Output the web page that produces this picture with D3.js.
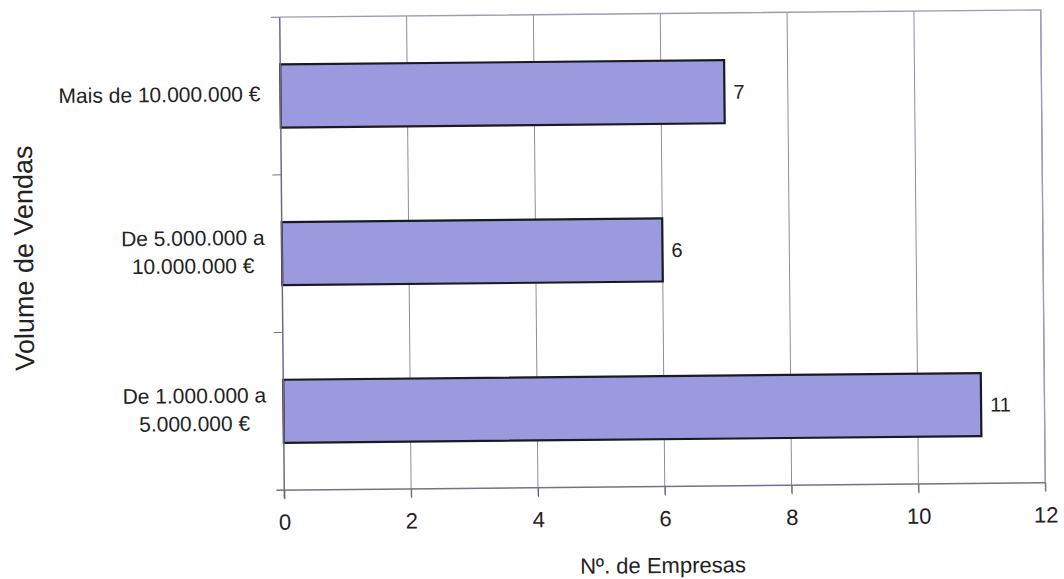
<!DOCTYPE html>
<html><head><meta charset="utf-8">
<script src="https://cdn.jsdelivr.net/npm/d3@7"></script>
<style>body{margin:0;background:#fff}svg{font-family:"Liberation Sans",Arial,sans-serif}</style>
</head><body>
<svg id="c" width="1064" height="579"></svg>
<script>
const categories = [["Mais de 10.000.000 €"], ["De 5.000.000 a", "10.000.000 €"], ["De 1.000.000 a", "5.000.000 €"]];
const values = [7, 6, 11];
const xTicks = [0, 2, 4, 6, 8, 10, 12];

const L = 282, R = 1043, T = 13.5, B = 486.5;
// whole scanned page is tilted slightly
const svg = d3.select("#c").append("g").attr("transform", `rotate(-0.55,${(L + R) / 2},${(T + B) / 2})`);
const x = d3.scaleLinear().domain([0, 12]).range([L, R]);
const y = d3.scaleBand().domain(d3.range(categories.length)).range([T, B]).paddingInner(0.6).paddingOuter(0.3);

// gridlines
svg.append("g").selectAll("line").data(xTicks.slice(1)).join("line")
  .attr("x1", d => x(d)).attr("x2", d => x(d)).attr("y1", T).attr("y2", B + 8)
  .attr("stroke", "#8f8c9c").attr("stroke-width", 1);
// border top/right
svg.append("path").attr("d", `M${L},${T}H${R}V${B}`).attr("fill", "none").attr("stroke", "#a09ab8").attr("stroke-width", 1.4);

// bars
svg.append("g").selectAll("rect").data(values).join("rect")
  .attr("x", x(0)).attr("y", (d, i) => y(i)).attr("width", d => x(d) - x(0)).attr("height", y.bandwidth())
  .attr("fill", "#9c9ade").attr("stroke", "#1a1a22").attr("stroke-width", 2.2);

// value labels
svg.append("g").selectAll("text").data(values).join("text")
  .attr("x", d => x(d) + 9).attr("y", (d, i) => y(i) + y.bandwidth() / 2 + 7)
  .style("font-size", "20px").attr("fill", "#222").text(d => d);

// axes
const xa = svg.append("g").attr("transform", `translate(0,${B})`)
  .call(d3.axisBottom(x).tickValues(xTicks).tickSize(9).tickPadding(15).tickFormat(d3.format("d")));
xa.attr("font-size", null).attr("font-family", null);
xa.select(".domain").attr("stroke", "#7a6f8f").attr("stroke-width", 1.5).attr("d", `M${L - 8},0H${R}`);
xa.selectAll(".tick line").attr("stroke", "#666").attr("y1", 0);
xa.selectAll("text").style("font-size", "22px").attr("fill", "#222");

// y axis line & ticks at band boundaries
svg.append("line").attr("x1", L).attr("x2", L).attr("y1", T).attr("y2", B + 8).attr("stroke", "#6f6a82").attr("stroke-width", 1.5);
const bounds = [T, T + (B - T) / 3, T + 2 * (B - T) / 3];
svg.append("g").selectAll("line").data(bounds).join("line")
  .attr("x1", L - 9).attr("x2", L).attr("y1", d => d).attr("y2", d => d).attr("stroke", "#777");

// category labels
const cl = svg.append("g").selectAll("text").data(categories).join("text")
  .attr("text-anchor", "middle").style("font-size", "21px").attr("fill", "#222")
  .attr("transform", (d, i) => `translate(${d.length === 1 ? 161 : 193},${y(i) + y.bandwidth() / 2 + 5 - (d.length - 1) * 14})`);
cl.selectAll("tspan").data(d => d).join("tspan").attr("x", 0).attr("dy", (d, j) => j ? 28 : 0).text(d => d);

// axis titles
svg.append("text").attr("x", 660).attr("y", 573).attr("text-anchor", "middle")
  .style("font-size", "22px").attr("fill", "#222").text("Nº. de Empresas");
svg.append("text").attr("transform", `translate(33,252) rotate(-90)`).attr("text-anchor", "middle")
  .style("font-size", "27px").attr("fill", "#222").text("Volume de Vendas");
</script>
</body></html>
